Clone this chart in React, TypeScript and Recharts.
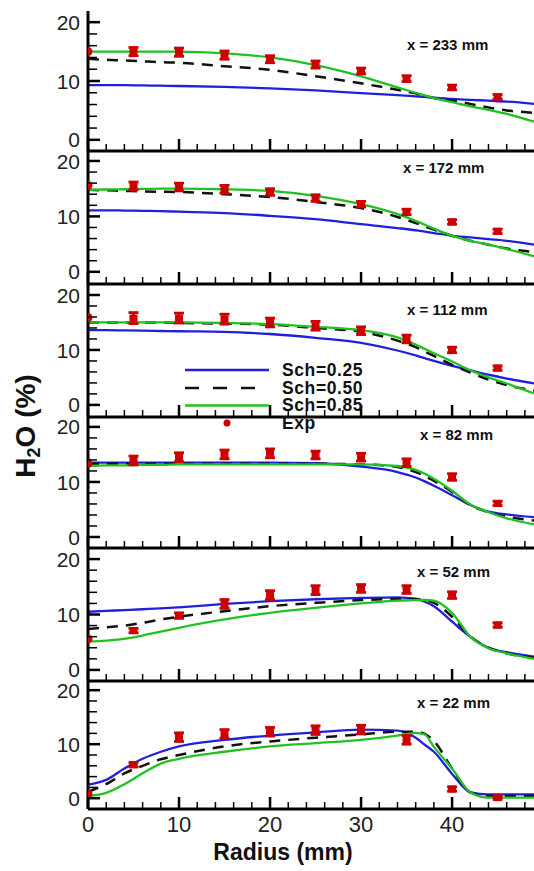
import React from "react";
import { ComposedChart, Line, Scatter, ErrorBar, XAxis, YAxis } from "recharts";

// radial stations of the computed profiles (mm)
const RADIUS = [0, 2, 4, 6, 8, 10, 15, 20, 25, 30, 34, 36, 37, 38, 40, 42, 44, 46, 49];
// radial stations of the measurements (mm)
const EXP_RADIUS = [0, 5, 10, 15, 20, 25, 30, 35, 40, 45];

const STATIONS = ["x = 233 mm", "x = 172 mm", "x = 112 mm", "x = 82 mm", "x = 52 mm", "x = 22 mm"];
const SERIES_NAMES = ["Sch=0.25", "Sch=0.50", "Sch=0.85", "Exp"];

const X_TICKS = [0, 2, 4, 6, 8, 10, 12, 14, 16, 18, 20, 22, 24, 26, 28, 30, 32, 34, 36, 38, 40, 42, 44, 46, 48];
const Y_TICKS = [0, 2, 4, 6, 8, 10, 12, 14, 16, 18, 20];

// one row per station, top (233 mm) to bottom (22 mm)
const SCH_025 = [
  [9.3, 9.3, 9.3, 9.25, 9.2, 9.15, 9.0, 8.75, 8.4, 7.95, 7.6, 7.4, 7.3, 7.15, 6.95, 6.8, 6.65, 6.5, 6.1],
  [11.1, 11.1, 11.05, 11.0, 10.95, 10.85, 10.6, 10.1, 9.5, 8.6, 7.9, 7.5, 7.25, 7.0, 6.5, 6.2, 5.9, 5.6, 4.9],
  [13.6, 13.6, 13.55, 13.5, 13.45, 13.4, 13.3, 12.9, 12.2, 11.3, 9.9, 9.0, 8.5, 8.0, 7.1, 6.3, 5.5, 4.8, 3.9],
  [13.5, 13.5, 13.5, 13.5, 13.5, 13.5, 13.5, 13.5, 13.4, 12.8, 11.8, 10.8, 10.1, 9.3, 7.6, 5.8, 4.6, 4.1, 3.6],
  [10.5, 10.65, 10.8, 10.95, 11.1, 11.3, 11.9, 12.4, 12.75, 13.0, 13.1, 12.8, 12.3, 11.5, 8.7, 6.0, 4.0, 3.2, 2.4],
  [2.5, 3.4, 5.5, 7.3, 8.6, 9.6, 10.8, 11.6, 12.2, 12.7, 12.5, 11.2, 9.9, 8.6, 4.5, 1.1, 0.7, 0.7, 0.7],
];
const SCH_050 = [
  [13.8, 13.6, 13.5, 13.35, 13.2, 13.1, 12.5, 11.9, 10.8, 9.6, 8.5, 7.9, 7.5, 7.1, 6.7, 6.1, 5.5, 5.0, 4.6],
  [14.8, 14.7, 14.6, 14.5, 14.45, 14.4, 14.0, 13.5, 12.6, 11.5, 9.9, 8.8, 8.2, 7.6, 6.5, 5.6, 4.9, 4.2, 3.6],
  [15.0, 15.0, 15.0, 15.0, 15.0, 14.9, 14.8, 14.6, 14.0, 13.3, 11.7, 10.5, 9.7, 8.9, 7.3, 5.9, 4.6, 3.6, 2.6],
  [13.3, 13.3, 13.3, 13.3, 13.3, 13.3, 13.3, 13.3, 13.3, 13.2, 12.7, 11.8, 11.1, 10.2, 8.2, 5.8, 4.5, 3.7, 3.0],
  [7.4, 7.7, 8.0, 8.5, 9.1, 9.6, 10.6, 11.5, 12.1, 12.6, 12.8, 12.8, 12.6, 12.1, 9.6, 6.0, 4.0, 3.0, 2.2],
  [1.2, 2.6, 4.6, 6.0, 7.2, 8.0, 9.6, 10.5, 11.2, 11.8, 12.3, 12.3, 11.9, 10.6, 5.5, 1.1, 0.4, 0.4, 0.4],
];
const SCH_085 = [
  [15.0, 15.0, 15.0, 15.0, 15.0, 15.0, 14.7, 14.0, 12.7, 10.8, 8.9, 8.0, 7.55, 7.1, 6.4, 5.7, 5.1, 4.4, 3.1],
  [14.8, 14.85, 14.9, 14.95, 15.0, 15.0, 14.9, 14.6, 13.7, 12.2, 10.4, 9.2, 8.5, 7.8, 6.5, 5.6, 4.9, 4.1, 2.8],
  [15.0, 15.0, 15.0, 15.0, 15.0, 15.0, 14.9, 14.7, 14.2, 13.6, 12.3, 11.0, 10.2, 9.4, 7.9, 6.3, 5.0, 3.9, 2.1],
  [12.9, 13.0, 13.0, 13.1, 13.1, 13.2, 13.2, 13.2, 13.2, 13.2, 12.9, 12.2, 11.5, 10.6, 8.4, 5.9, 4.5, 3.4, 2.3],
  [5.1, 5.3, 5.6, 6.2, 6.9, 7.6, 9.1, 10.3, 11.2, 12.0, 12.5, 12.6, 12.65, 12.5, 10.3, 6.0, 3.9, 3.0, 2.0],
  [0.4, 1.0, 2.6, 4.6, 6.4, 7.3, 8.6, 9.6, 10.2, 10.8, 11.6, 12.1, 11.8, 9.5, 5.5, 1.1, 0.1, 0.1, 0.1],
];
const EXP = [
  [15.0, 15.0, 14.9, 14.4, 13.7, 12.8, 11.7, 10.4, 8.9, 7.3],
  [15.6, 15.5, 15.3, 14.9, 14.4, 13.3, 12.2, 10.8, 9.0, 7.3],
  [15.9, 15.8, 15.8, 15.6, 15.0, 14.4, 13.5, 12.0, 10.0, 6.7],
  [13.4, 13.9, 14.5, 15.0, 15.2, 14.9, 14.5, 13.5, 10.9, 6.1],
  [5.6, 7.1, 9.8, 11.9, 13.5, 14.4, 14.7, 14.5, 13.5, 8.1],
  [0.8, 6.2, 11.3, 11.9, 12.3, 12.6, 12.7, 10.8, 1.7, 0.1],
];
const EXP_ERR = [
  [0, 0.7, 0.7, 0.7, 0.6, 0.6, 0.5, 0.5, 0.4, 0.4],
  [0, 0.7, 0.7, 0.7, 0.6, 0.6, 0.5, 0.5, 0.4, 0.4],
  [0, 1.0, 0.9, 0.9, 0.8, 0.8, 0.7, 0.7, 0.5, 0.4],
  [0, 0.8, 0.8, 0.8, 0.8, 0.7, 0.7, 0.7, 0.6, 0.4],
  [0, 0.4, 0.5, 0.8, 0.8, 0.8, 0.7, 0.7, 0.6, 0.4],
  [0, 0.4, 0.8, 0.8, 0.8, 0.8, 0.8, 0.8, 0.4, 0.3],
];

// pixel layout of each stacked panel's plot area + y range
const PANELS = [
  { top: 11, bottom: 151, lo: -1.9, hi: 21.9, label: [407, 50] },
  { top: 151, bottom: 284, lo: -2.2, hi: 21.8, label: [403, 173] },
  { top: 284, bottom: 417, lo: -2.2, hi: 22.0, label: [407, 315] },
  { top: 417, bottom: 548, lo: -2.0, hi: 21.8, label: [420, 440] },
  { top: 548, bottom: 681, lo: -2.0, hi: 22.0, label: [417, 577] },
  { top: 681, bottom: 809, lo: -2.0, hi: 21.7, label: [417, 708] },
];

const BLUE = "#2020dc";
const GREEN = "#1fc21f";
const BLACK = "#111";
const RED = "#cc0000";
const FONT = "'Liberation Sans', Arial, sans-serif";

function YTick(props: any) {
  const { x, y, payload } = props;
  const major = payload.value % 10 === 0;
  return (
    <g>
      <line x1={x} x2={x + (major ? 12 : 9)} y1={y} y2={y} stroke="#000" strokeWidth={major ? 2.5 : 1.5} />
      {major && (
        <text x={x - 8} y={y} dy="0.36em" textAnchor="end" fontSize={21} fill="#222" fontFamily={FONT}>
          {payload.value}
        </text>
      )}
    </g>
  );
}

function XTick(props: any) {
  const { x, y, payload, labels } = props;
  const major = payload.value % 10 === 0;
  return (
    <g>
      <line x1={x} x2={x} y1={y} y2={y - (major ? 12 : 7)} stroke="#000" strokeWidth={major ? 2.5 : 1.5} />
      {labels && major && (
        <text x={x} y={y + 23} textAnchor="middle" fontSize={22} fill="#222" fontFamily={FONT}>
          {payload.value}
        </text>
      )}
    </g>
  );
}

function Marker(props: any) {
  const { cx, cy, payload } = props;
  if (payload.err === 0) return <circle cx={cx} cy={cy} r={4.5} fill={RED} />;
  return <rect x={cx - 4} y={cy - 3.5} width={8} height={7} fill={RED} />;
}

function Panel({ i }: { i: number }) {
  const p = PANELS[i];
  const last = i === PANELS.length - 1;
  const axisH = last ? 40 : 2;
  const h = p.bottom - p.top + 4 + (last ? 40 : 0);
  const line = (vals: number[]) => RADIUS.map((x, k) => ({ x, y: vals[k] }));
  const exp = EXP_RADIUS.map((x, k) => ({ x, y: EXP[i][k], err: EXP_ERR[i][k] }));

  return (
    <div style={{ position: "absolute", left: 0, top: p.top - 2 }}>
      <ComposedChart width={534} height={h} margin={{ top: 2, right: 0, bottom: last ? 2 : 0, left: 0 }}>
        <XAxis
          type="number"
          dataKey="x"
          domain={[0, 49]}
          allowDataOverflow
          ticks={X_TICKS}
          interval={0}
          height={axisH}
          tickSize={0}
          tickMargin={0}
          tickLine={false}
          axisLine={{ stroke: "#000", strokeWidth: 3 }}
          tick={(t: any) => <XTick {...t} labels={last} />}
        />
        <YAxis
          type="number"
          dataKey="y"
          domain={[p.lo, p.hi]}
          allowDataOverflow
          ticks={Y_TICKS}
          interval={0}
          width={88}
          tickSize={0}
          tickMargin={0}
          tickLine={false}
          axisLine={{ stroke: "#000", strokeWidth: 3 }}
          tick={<YTick />}
        />
        <Line data={line(SCH_025[i])} dataKey="y" type="monotone" stroke={BLUE} strokeWidth={2.3} dot={false} isAnimationActive={false} />
        <Line data={line(SCH_050[i])} dataKey="y" type="monotone" stroke={BLACK} strokeWidth={2.5} strokeDasharray="11 8" dot={false} isAnimationActive={false} />
        <Line data={line(SCH_085[i])} dataKey="y" type="monotone" stroke={GREEN} strokeWidth={2.3} dot={false} isAnimationActive={false} />
        <Scatter data={exp} dataKey="y" shape={<Marker />} isAnimationActive={false}>
          <ErrorBar dataKey="err" direction="y" width={5} stroke={RED} strokeWidth={2.8} isAnimationActive={false} />
        </Scatter>
      </ComposedChart>
    </div>
  );
}

export default function App() {
  return (
    <div style={{ position: "absolute", left: 0, top: 0, width: 534, height: 871, background: "#fff", overflow: "hidden" }}>
      {PANELS.map((_, i) => (
        <Panel key={i} i={i} />
      ))}
      <svg width={534} height={871} style={{ position: "absolute", left: 0, top: 0, pointerEvents: "none" }} fontFamily={FONT}>
        {PANELS.map((p, i) => (
          <text key={i} x={p.label[0]} y={p.label[1]} fontSize={15} fontWeight="bold" fill="#111">
            {STATIONS[i]}
          </text>
        ))}
        {/* legend */}
        <line x1={185} x2={269} y1={370} y2={370} stroke={BLUE} strokeWidth={2.5} />
        <line x1={185} x2={269} y1={388} y2={388} stroke={BLACK} strokeWidth={2.5} strokeDasharray="14 14" />
        <line x1={185} x2={269} y1={405.5} y2={405.5} stroke={GREEN} strokeWidth={2.5} />
        <circle cx={227} cy={423} r={3.5} fill={RED} />
        {SERIES_NAMES.map((n, k) => (
          <text key={n} x={282} y={376 + k * 17.5} fontSize={17.5} fontWeight="bold" fill="#111" letterSpacing={0.6}>
            {n}
          </text>
        ))}
        <text x={283} y={860} textAnchor="middle" fontSize={23} fontWeight="bold" fill="#111">
          Radius (mm)
        </text>
        <text transform="translate(35,426) rotate(-90)" textAnchor="middle" fontSize={28} fontWeight="bold" fill="#111">
          H<tspan fontSize={18} dy={5}>2</tspan>
          <tspan dy={-5}>O (%)</tspan>
        </text>
      </svg>
    </div>
  );
}
